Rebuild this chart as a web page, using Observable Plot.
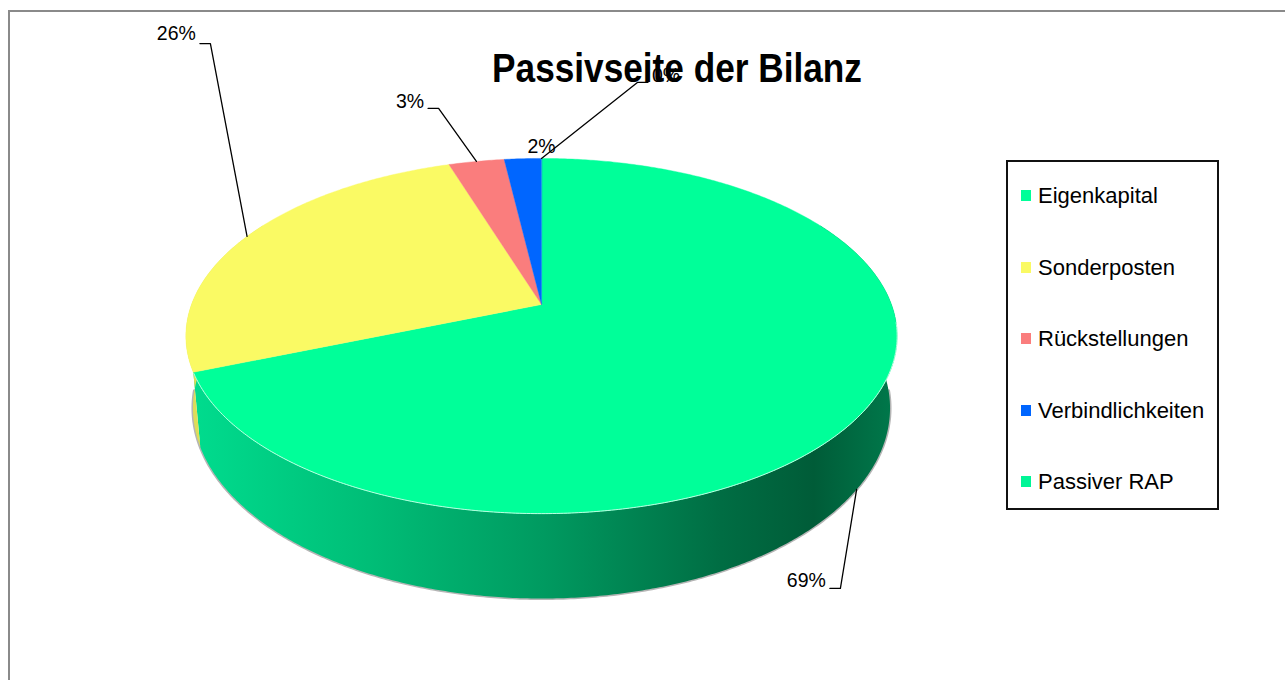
<!DOCTYPE html>
<html>
<head>
<meta charset="utf-8">
<script src="https://cdn.jsdelivr.net/npm/d3@7"></script>
<script src="https://cdn.jsdelivr.net/npm/@observablehq/plot@0.6"></script>
<style>
  html, body { margin: 0; padding: 0; background: #fff; }
  #wrap { position: relative; width: 1285px; height: 680px; overflow: hidden; font-family: "Liberation Sans", Arial, sans-serif; }
  #frame { position: absolute; left: 8px; top: 10px; width: 1400px; height: 800px; border-left: 2px solid #8a8a8a; border-top: 2px solid #8a8a8a; }
  #chart { position: absolute; left: 0; top: 0; }
  #legend { position: absolute; left: 1006px; top: 160px; width: 209px; height: 346px; border: 2px solid #111; background: #fff; }
  .item { position: absolute; left: 30px; font-size: 22px; line-height: 22px; white-space: nowrap; color: #000; }
  .sw { position: absolute; left: 13px; width: 10px; height: 11px; }
  #title { position: absolute; top: 48px; left: 677px; font-weight: bold; font-size: 40px; line-height: 40px; white-space: nowrap; transform: translateX(-50%) scaleX(0.88); color: #000; }
</style>
</head>
<body>
<div id="wrap">
  <div id="frame"></div>
  <div id="chart"></div>
  <div id="legend"></div>
  <div id="title"></div>
</div>
<script>
// ---------- data ----------
const titleText = "Passivseite der Bilanz";
const categories = ["Eigenkapital", "Sonderposten", "Rückstellungen", "Verbindlichkeiten", "Passiver RAP"];
const values = [69, 26, 3, 2, 0];
const colors = ["#00FF99", "#FAFA64", "#FA7D7D", "#0066FF", "#00F596"];

// ---------- label layout (chart units) ----------
const labelElbows = [[0.854, 1.651], [-0.946, -1.517], [-0.294, -1.140], [0, -0.919], [0.274, -1.291]];
const labelSides = [-1, -1, -1, 0, 1];
const labelDy = [-8, -10, -7, 0, -7];
const leaderFrom = ["bottom", "top", "top", null, "top"];

// ---------- 3D pie projection ----------
const P = 0.1775, H = 0.406, S = 0.98, deg = Math.PI / 180;
function proj(a, bottom) {
  const u = Math.sin(a), v = -Math.cos(a), den = 1 - P * v;
  return bottom ? {x: S * u / den, y: (v + H) / den} : {x: u / den, y: v / den};
}
function arcPts(a0, a1, bottom) {
  const n = Math.max(2, Math.ceil((a1 - a0) / (0.5 * deg)));
  return d3.range(n + 1).map(i => proj(a0 + (a1 - a0) * i / n, bottom));
}
const slices = d3.pie().sort(null).value(d => d).startAngle(0).endAngle(2 * Math.PI)(values);
const total = d3.sum(values);
const fmt = d3.format(".0%");

const marks = [];
// bottom shadow
marks.push(Plot.line(arcPts(95 * deg, 265 * deg, true), {x: "x", y: "y", stroke: "#b5b5b5", strokeWidth: 3}));
// walls
slices.forEach(s => {
  const w0 = Math.max(s.startAngle, 60 * deg), w1 = Math.min(s.endAngle, 300 * deg);
  if (w1 > w0) {
    const poly = [...arcPts(w0, w1, false), ...arcPts(w0, w1, true).reverse()];
    const fill = s.index === 0 ? "url(#sideGrad)" : d3.color(colors[s.index]).darker(0.35).formatHex();
    marks.push(Plot.line(poly, {x: "x", y: "y", fill, stroke: "none", curve: "linear-closed"}));
  }
});
// tops
slices.forEach(s => {
  if (s.endAngle > s.startAngle) {
    const poly = [{x: 0, y: 0}, ...arcPts(s.startAngle, s.endAngle, false)];
    marks.push(Plot.line(poly, {x: "x", y: "y", fill: colors[s.index], stroke: colors[s.index], strokeWidth: 0.4, curve: "linear-closed"}));
  }
});
// rim highlight
marks.push(Plot.line(arcPts(96 * deg, 248 * deg, false), {x: "x", y: "y", stroke: "#b8ffe0", strokeWidth: 1}));

// labels + leaders
const tail = 0.03;
slices.forEach(s => {
  const i = s.index;
  const [ex, ey] = labelElbows[i];
  const side = labelSides[i];
  const txt = fmt(values[i] / total);
  if (leaderFrom[i]) {
    const mid = (s.startAngle + s.endAngle) / 2;
    const start = proj(mid, leaderFrom[i] === "bottom");
    const pts = [start, {x: ex, y: ey}, {x: ex + side * tail, y: ey}];
    marks.push(Plot.line(pts, {x: "x", y: "y", stroke: "#000", strokeWidth: 1.3}));
  }
  marks.push(Plot.text([{x: ex + side * tail, y: ey, t: txt}], {
    x: "x", y: "y", text: "t",
    textAnchor: side < 0 ? "end" : side > 0 ? "start" : "middle",
    dx: side * 4, dy: labelDy[i],
    fontSize: 19.5, fontFamily: "Liberation Sans, Arial, sans-serif", fill: "#000"
  }));
});

const chart = Plot.plot({
  width: 1285, height: 680, margin: 0,
  style: {background: "transparent", overflow: "visible"},
  x: {domain: [-1, 1], range: [191, 891], axis: null},
  y: {domain: [-1, 1], range: [132, 476], axis: null},
  marks
});

// gradient for the side wall
const sideStops = [[0, "#00DC8E"], [0.25, "#00BE77"], [0.5, "#009A60"], [0.75, "#006D43"], [0.88, "#005C38"], [1, "#007A4C"]];
const xs = chart.scale("x");
const defs = d3.select(chart).insert("defs", ":first-child");
const grad = defs.append("linearGradient").attr("id", "sideGrad").attr("gradientUnits", "userSpaceOnUse")
  .attr("x1", xs.apply(-1.0)).attr("x2", xs.apply(1.02)).attr("y1", 0).attr("y2", 0);
sideStops.forEach(([o, c]) => grad.append("stop").attr("offset", o).attr("stop-color", c));

document.getElementById("chart").appendChild(chart);

// title
document.getElementById("title").textContent = titleText;

// legend
const legend = d3.select("#legend");
categories.forEach((c, i) => {
  const mid = 36 + i * 71.5;
  legend.append("div").attr("class", "sw").style("top", (mid - 8) + "px").style("background", colors[i]);
  legend.append("div").attr("class", "item").style("top", (mid - 12.6) + "px").text(c);
});
</script>
</body>
</html>
